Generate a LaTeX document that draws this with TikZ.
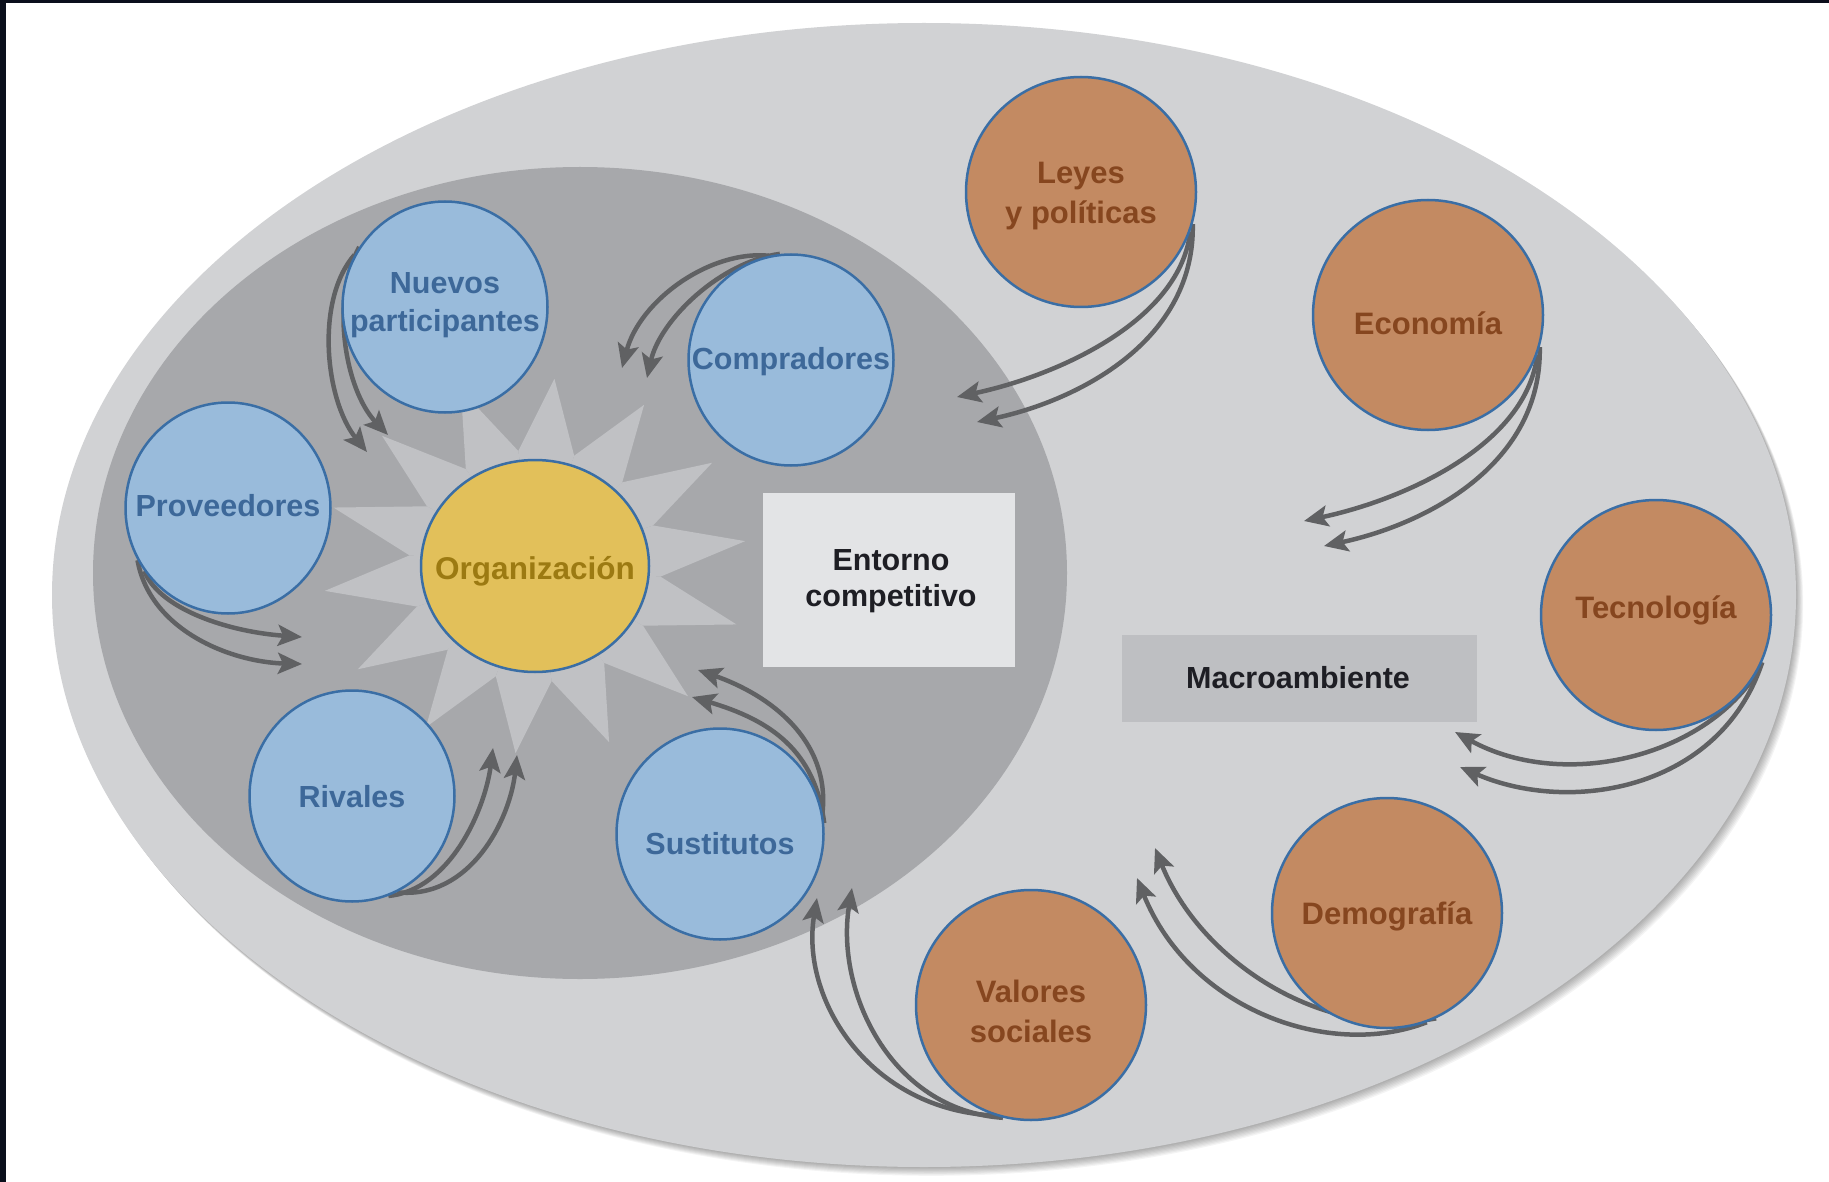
\documentclass[tikz,border=0pt]{standalone}
\usepackage{fontspec}
\setmainfont{Liberation Sans}
\usetikzlibrary{shapes.geometric,arrows.meta}
\definecolor{outerg}{HTML}{D1D2D4}
\definecolor{innerg}{HTML}{A7A8AB}
\definecolor{starg}{HTML}{C0C1C4}
\definecolor{bluef}{HTML}{99BBDB}
\definecolor{edgeb}{HTML}{3A6EA5}
\definecolor{orangef}{HTML}{C38A62}
\definecolor{goldf}{HTML}{E2C05A}
\definecolor{arrowg}{HTML}{606163}
\definecolor{bluet}{HTML}{3D6899}
\definecolor{brownt}{HTML}{86461F}
\definecolor{goldt}{HTML}{9C7A12}
\definecolor{darkt}{HTML}{1E1E24}
\definecolor{entf}{HTML}{E3E4E6}
\definecolor{macf}{HTML}{BEBFC2}
\definecolor{framec}{HTML}{0B0F1C}
\pgfdeclarelayer{back}
\pgfdeclarelayer{arrowlayer}
\pgfsetlayers{back,arrowlayer,main}
\tikzset{
  bluec/.style={ellipse, draw=edgeb, line width=2.5pt, fill=bluef, minimum width=205pt, minimum height=211pt, inner sep=0pt},
  orangec/.style={circle, draw=edgeb, line width=2.5pt, fill=orangef, minimum size=230pt, inner sep=0pt},
  goldc/.style={ellipse, draw=edgeb, line width=2.5pt, fill=goldf, minimum width=228pt, minimum height=212pt, inner sep=0pt},
  bluetxt/.style={text=bluet, font=\fontsize{30.5}{37.5}\selectfont\bfseries, align=center, inner sep=0pt},
  browntxt/.style={text=brownt, font=\fontsize{31}{40}\selectfont\bfseries, align=center, inner sep=0pt},
  goldtxt/.style={text=goldt, font=\fontsize{31.5}{38}\selectfont\bfseries, align=center, inner sep=0pt},
  boxtxt/.style={text=darkt, font=\fontsize{30.5}{36}\selectfont\bfseries, align=center, inner sep=0pt},
  flow/.style={draw=arrowg, line width=4.5pt, -{Stealth[length=24pt,width=21pt,inset=5pt]}},
}
\begin{document}
\begin{tikzpicture}[x=1pt,y=-1pt]
\useasboundingbox (0,0) rectangle (1829,1182);

% nodes
\node[goldc, label={[goldtxt,yshift=-5pt]center:Organización}] (org) at (535,566) {};
\node[bluec, label={[bluetxt,yshift=2pt]center:{Nuevos\\participantes}}] (nue) at (445,307) {};
\node[bluec, label={[bluetxt,yshift=-2pt]center:Compradores}] (com) at (791,360) {};
\node[bluec, label={[bluetxt,yshift=2pt]center:Proveedores}] (pro) at (228,508) {};
\node[bluec, label={[bluetxt,yshift=-1pt]center:Rivales}] (riv) at (352,796) {};
\node[bluec, minimum width=207pt, label={[bluetxt,yshift=-10pt]center:Sustitutos}] (sus) at (720,834) {};
\node[orangec, label={[browntxt,yshift=-4pt]center:{Leyes\\y políticas}}] (ley) at (1081,192) {};
\node[orangec, label={[browntxt,yshift=-8pt]center:Economía}] (eco) at (1428,315) {};
\node[orangec, label={[browntxt,yshift=5pt]center:Tecnología}] (tec) at (1656,615) {};
\node[orangec, label={[browntxt,yshift=-3pt]center:Demografía}] (dem) at (1387,913) {};
\node[orangec, label={[browntxt,yshift=-6pt]center:{Valores\\sociales}}] (val) at (1031,1005) {};
\node[fill=entf, minimum width=252pt, minimum height=174pt, inner sep=0pt] (ent) at (889,580) {};
\node[boxtxt] (entt) at (891,581) {Entorno\\competitivo};
\node[fill=macf, minimum width=355pt, minimum height=87pt, inner sep=0pt] (mac) at (1299.5,678.5) {};
\node[boxtxt] (mact) at (1298,678) {Macroambiente};

% background
\begin{pgfonlayer}{back}
\fill[white] (0,0) rectangle (1829,1182);
\foreach \k in {1,...,8}
  \fill[black, opacity=0.045] ({924+\k*0.9},{595+\k*1.1}) ellipse [x radius=872, y radius=572];
\fill[outerg] (924,595) ellipse [x radius=872, y radius=572];
\fill[innerg] (580,573) ellipse [x radius=487, y radius=406];
\foreach \k in {0,...,13}{
  \pgfmathsetmacro\a{7.6+\k*360/14}
  \pgfmathsetmacro\b{\a-12.857}
  \pgfmathsetmacro\c{\a+12.857}
  \fill[starg] (535,566) -- ({535+126*cos(\b)},{566-116*sin(\b)}) -- ({535+212*cos(\a)},{566-188*sin(\a)}) -- ({535+126*cos(\c)},{566-116*sin(\c)}) -- cycle;
}
\fill[framec] (0,0) rectangle (6,1182);
\fill[framec] (0,0) rectangle (1829,3);
\end{pgfonlayer}

% arrows
\begin{pgfonlayer}{arrowlayer}
\coordinate (ley1) at (957,397);
\coordinate (ley2) at (977,422);
\draw[flow] (ley.-20) .. controls (1180,320) and (1060,375) .. (ley1);
\draw[flow] (ley.-16) .. controls (1195,340) and (1080,400) .. (ley2);
\coordinate (eco1) at (1304,521);
\coordinate (eco2) at (1324,546);
\draw[flow] (eco.-20) .. controls (1527,444) and (1407,499) .. (eco1);
\draw[flow] (eco.-16) .. controls (1542,464) and (1427,524) .. (eco2);
\coordinate (tec1) at (1455,732);
\coordinate (tec2) at (1460,767);
\draw[flow] (tec.-30) .. controls (1700,760) and (1560,790) .. (tec1);
\draw[flow] (tec.-24) .. controls (1720,790) and (1570,815) .. (tec2);
\coordinate (dem1) at (1137,878);
\coordinate (dem2) at (1155,848);
\draw[flow] (dem.-70) .. controls (1330,1060) and (1190,1010) .. (dem1);
\draw[flow] (dem.-65) .. controls (1320,1040) and (1200,960) .. (dem2);
\coordinate (val1) at (817,898);
\coordinate (val2) at (852,888);
\draw[flow] (val.-108) .. controls (870,1110) and (800,1000) .. (val1);
\draw[flow] (val.-104) .. controls (890,1110) and (835,990) .. (val2);
\coordinate (sus1) at (698,670);
\coordinate (sus2) at (692,697);
\draw[flow] (sus.12) .. controls (830,740) and (770,695) .. (sus1);
\draw[flow] (sus.6) .. controls (815,750) and (770,720) .. (sus2);
\coordinate (riv1) at (493,748);
\coordinate (riv2) at (517,755);
\draw[flow] (riv.-70) .. controls (450,890) and (485,810) .. (riv1);
\draw[flow] (riv.-65) .. controls (470,900) and (510,820) .. (riv2);
\coordinate (pro1) at (302,637);
\coordinate (pro2) at (302,664);
\draw[flow] (pro.-143) .. controls (160,610) and (230,632) .. (pro1);
\draw[flow] (pro.-150) .. controls (150,630) and (230,662) .. (pro2);
\coordinate (nue1) at (367,452);
\coordinate (nue2) at (388,435);
\draw[flow] (nue.150) .. controls (315,300) and (325,400) .. (nue1);
\draw[flow] (nue.145) .. controls (330,300) and (345,390) .. (nue2);
\coordinate (com1) at (622,368);
\coordinate (com2) at (647,378);
\draw[flow] (com.102) .. controls (710,250) and (640,300) .. (com1);
\draw[flow] (com.96) .. controls (720,262) and (660,320) .. (com2);
\end{pgfonlayer}
\end{tikzpicture}
\end{document}
